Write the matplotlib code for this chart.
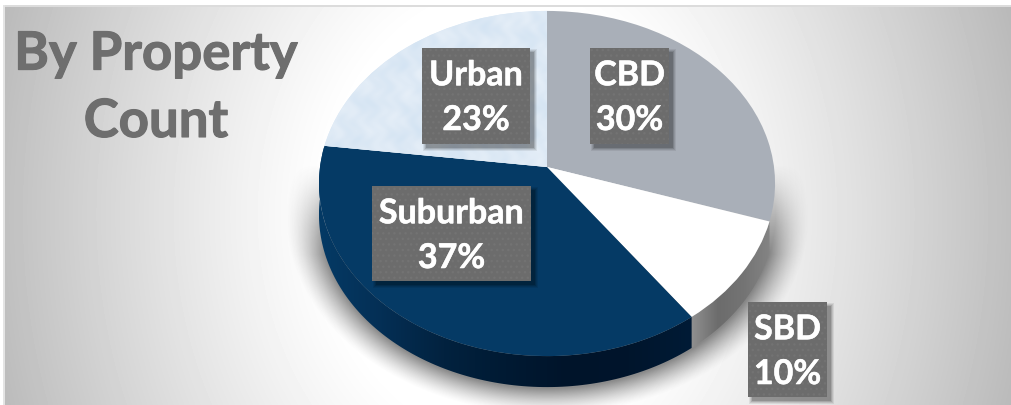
#!/usr/bin/env python
# Pie by property count, tilted with a small perspective, pixel coords on the axes
import numpy as np
import matplotlib
matplotlib.use('Agg')
import matplotlib.pyplot as plt
import matplotlib.patheffects as pe
from matplotlib.colors import LinearSegmentedColormap
from matplotlib.patches import Polygon, Rectangle
from matplotlib.transforms import Transform

#------------------------------------------------------------------------
# D A T A
#------------------------------------------------------------------------
names   = ['CBD', 'SBD', 'Suburban', 'Urban']
values  = [30, 10, 37, 23]
colours = ['#a9afb8', '#ffffff', '#053a65', '#dbe9f6']
title   = 'By Property\nCount'

# label boxes: left, top, right, bottom in pixels
boxes = {'CBD': (590, 49, 669, 145),
         'SBD': (748, 303, 827, 398),
         'Suburban': (372, 187, 531, 282),
         'Urban': (422, 49, 530, 145)}

#------------------------------------------------------------------------
# G E O M E T R Y
#------------------------------------------------------------------------
W, H   = 1012, 406
CX, CY = 547, 168    # pie centre on the picture
RX, RY = 227, 171
TILT   = 0.0957
DEPTH  = 31


class Tilt(Transform):
    input_dims = 2
    output_dims = 2
    is_separable = False

    def transform_non_affine(self, xy):
        xy = np.asarray(xy, dtype=float)
        w = 1 + TILT*xy[:, 1]
        return np.column_stack((CX + RX*xy[:, 0]/w, CY - RY*xy[:, 1]/w))


def rim(a0, a1, n=120):
    t = np.radians(np.linspace(a0, a1, n))
    return Tilt().transform(np.column_stack((np.cos(t), np.sin(t))))


plt.rcParams['font.family'] = ['Lato', 'DejaVu Sans']
fig = plt.figure(figsize=(W/100, H/100), dpi=100)
ax = fig.add_axes([0, 0, 1, 1])

#------------------------------------------------------------------------
# B A C K G R O U N D
#------------------------------------------------------------------------
yy, xx = np.mgrid[0:H, 0:W]
dist = np.hypot((xx - 505)/505.0, (yy - 215)/620.0)
shade = np.where(dist > 0.35, 1.0 - 0.25*((dist - 0.35)/0.65)**1.15, 1.0)
shade = np.clip(shade, 0, 1)
ax.imshow(shade, cmap='gray', vmin=0, vmax=1, extent=(0, W, H, 0), aspect='auto',
          interpolation='bilinear', zorder=0)
ax.add_patch(Rectangle((0, 0), W, 6.5, fc='white', ec='none', zorder=1))
ax.add_patch(Rectangle((0, 0), 3.5, H, fc='white', ec='none', zorder=1))
ax.add_patch(Rectangle((3.5, 6), W, 1.6, fc='#dcdcdc', ec='none', zorder=1))
ax.add_patch(Rectangle((3.5, 6), 1.4, H, fc='#e4e4e4', ec='none', zorder=1))

# soft shadow below the pie
dshadow = np.hypot((xx - 547)/245.0, (yy - 216)/186.0)
a = np.clip((1.07 - dshadow)/0.14, 0, 1)**1.4
a = 0.6*a*np.clip((yy - 165)/90.0, 0, 1)
rgba = np.zeros((H, W, 4))
rgba[..., :3] = 0.25
rgba[..., 3] = a
ax.imshow(rgba, extent=(0, W, H, 0), aspect='auto', interpolation='bilinear', zorder=2)

#------------------------------------------------------------------------
# P I E
#------------------------------------------------------------------------
wedges, _ = ax.pie(values, colors=colours, startangle=90, counterclock=False, radius=1,
                   frame=False, wedgeprops={'linewidth': 0})
tr = Tilt() + ax.transData
for w in wedges:
    w.set_transform(tr)
    w.set_zorder(5)
    w.set_clip_on(False)

# side walls, only the front half of the rim can be seen
ramps = {'SBD': ['#8f8f8f', '#6c6c6c', '#747474', '#848484'],
         'Suburban': ['#053a65', '#042f55', '#02223f', '#001a33', '#00142a', '#00152c', '#011b36']}
for w, name in zip(wedges, names):
    if name not in ramps:
        continue
    a0, a1 = w.theta1, w.theta2
    if name == 'Suburban':
        a1 = min(a1, 180 + 6.9)
    top = rim(a0, a1)
    low = top + np.array([0, DEPTH])
    wall = Polygon(np.vstack((top, low[::-1])), closed=True, fc='none', ec='none',
                   transform=ax.transData, zorder=4)
    ax.add_patch(wall)
    x0, x1 = top[:, 0].min(), top[:, 0].max()
    grad = np.linspace(0, 1, 256).reshape(1, -1)
    im = ax.imshow(grad, cmap=LinearSegmentedColormap.from_list(name, ramps[name]),
                   extent=(x0, x1, H, 0), aspect='auto', zorder=4)
    im.set_clip_path(wall)

# mottled paper look on the Urban slice
u = (np.sin(xx/9.1 + yy/13.3) + np.sin(xx/4.7 - yy/6.3 + 1.3*np.sin(xx/17.0))
     + np.sin(xx/21.9 + 3.1*np.sin(yy/11.1)) + 0.7*np.sin(xx/2.3 + 2.0*np.sin(yy/3.7)))/3.7
cm_urban = LinearSegmentedColormap.from_list('urban', ['#d4e4f3', '#dde9f5', '#e6eff8'])
im = ax.imshow(u, cmap=cm_urban, vmin=-1, vmax=1, extent=(0, W, H, 0), aspect='auto',
               interpolation='bilinear', zorder=6)
im.set_clip_path(wedges[names.index('Urban')])

#------------------------------------------------------------------------
# L A B E L S
#------------------------------------------------------------------------
for name, v in zip(names, values):
    x0, y0, x1, y1 = boxes[name]
    for grow, alpha in zip([3, 2, 1, 0], [0.07, 0.09, 0.12, 0.16]):
        ax.add_patch(Rectangle((x0 + 4 - grow, y0 + 4 - grow), x1 - x0 + 2*grow, y1 - y0 + 2*grow,
                               fc='black', ec='none', alpha=alpha, zorder=7))
    ax.add_patch(Rectangle((x0, y0), x1 - x0, y1 - y0, fc='#6c6c6c', ec='none', zorder=8))
    ax.add_patch(Rectangle((x0, y0), x1 - x0, y1 - y0, fc='none', ec='#737373', lw=0,
                           hatch='...', zorder=8))
    ax.text((x0 + x1)/2, y0 + 82, '%s\n%d%%' % (name, v), color='white', fontsize=24.5,
            fontweight='bold', ha='center', va='baseline', multialignment='center',
            linespacing=1.49, zorder=9,
            path_effects=[pe.withStroke(linewidth=0.4, foreground='white')])

ax.text(156, 138, title, color='#6e6e6e', fontsize=38, fontweight='bold', ha='center',
        va='baseline', multialignment='center', linespacing=1.46, zorder=9,
        path_effects=[pe.withStroke(linewidth=0.8, foreground='#6e6e6e')])

ax.set_xlim(0, W)
ax.set_ylim(H, 0)
ax.set_aspect('auto')
ax.axis('off')
fig.savefig('out.png', dpi=100)
